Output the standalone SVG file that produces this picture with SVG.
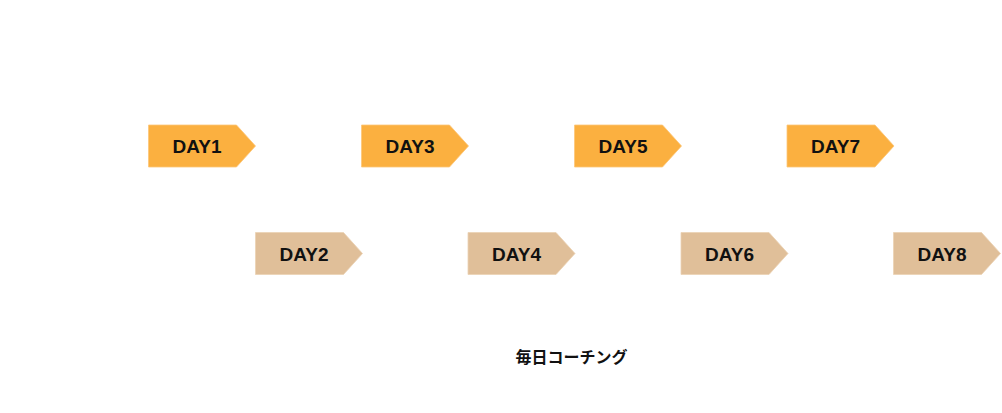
<svg xmlns="http://www.w3.org/2000/svg" width="1002" height="413" viewBox="0 0 1002 413">
<style>
.o{fill:#FBB040;stroke:#FCC77A;stroke-width:0.8}
.t{fill:#E0BF99;stroke:#EBD2B4;stroke-width:0.8}
.lb{font-family:"Liberation Sans",Arial,sans-serif;font-weight:bold;font-size:19px;fill:#111;text-anchor:middle}
.jp{font-family:"Noto Sans CJK JP","Noto Sans",sans-serif;font-weight:bold;font-size:16px;fill:#111;text-anchor:middle}
</style>
<defs>
<path id="arr" d="M0,0 H88 L107,21 L88,42 H0 Z"/>
</defs>
<rect width="1002" height="413" fill="#fff"/>
<g id="connectors"></g>
<g id="day1"><use href="#arr" class="o" x="148.5" y="125"/><text class="lb" x="197" y="153">DAY1</text></g>
<g id="day3"><use href="#arr" class="o" x="361.5" y="125"/><text class="lb" x="410" y="153">DAY3</text></g>
<g id="day5"><use href="#arr" class="o" x="574.5" y="125"/><text class="lb" x="623" y="153">DAY5</text></g>
<g id="day7"><use href="#arr" class="o" x="787" y="125"/><text class="lb" x="835.5" y="153">DAY7</text></g>
<g id="day2"><use href="#arr" class="t" x="255.5" y="232.5"/><text class="lb" x="304" y="260.5">DAY2</text></g>
<g id="day4"><use href="#arr" class="t" x="468" y="232.5"/><text class="lb" x="516.5" y="260.5">DAY4</text></g>
<g id="day6"><use href="#arr" class="t" x="681" y="232.5"/><text class="lb" x="729.5" y="260.5">DAY6</text></g>
<g id="day8"><use href="#arr" class="t" x="893.5" y="232.5"/><text class="lb" x="942" y="260.5">DAY8</text></g>
<g id="caption"><text class="jp" x="571.5" y="363">毎日コーチング</text></g>
</svg>
